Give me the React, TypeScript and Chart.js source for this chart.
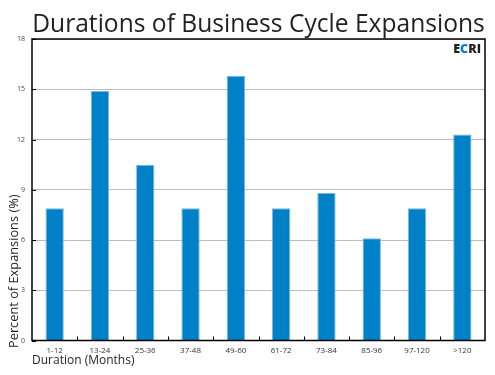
import React, { useEffect, useRef } from "react";
import { Chart, registerables } from "chart.js";

Chart.register(...registerables);

const categories = ["1-12", "13-24", "25-36", "37-48", "49-60", "61-72", "73-84", "85-96", "97-120", ">120"];
const percentValues = [7.9, 14.9, 10.5, 7.9, 15.8, 7.9, 8.8, 6.1, 7.9, 12.3];
const yMin = 0;
const yMax = 18;
const yStep = 3;
const titleText = "Durations of Business Cycle Expansions";
const yTitle = "Percent of Expansions (%)";
const xTitle = "Duration (Months)";

const FONT = "'Open Sans', sans-serif";
const DARK = "#231f20";
const BLUE = "#0080c6";

const framePlugin = {
  id: "frameDecor",
  afterDraw(chart: any) {
    const { ctx, chartArea } = chart;
    const { left, right, top, bottom } = chartArea;
    const xs = chart.scales.x;
    const ys = chart.scales.y;
    ctx.save();
    // tick marks
    ctx.strokeStyle = "#000";
    ctx.lineWidth = 1;
    ctx.beginPath();
    ys.ticks.forEach((t: any) => {
      const y = Math.round(ys.getPixelForValue(t.value)) + 0.5;
      ctx.moveTo(left, y);
      ctx.lineTo(left + 4, y);
    });
    for (let i = 1; i < categories.length; i++) {
      const x = Math.round((xs.getPixelForValue(i - 1) + xs.getPixelForValue(i)) / 2) + 0.5;
      ctx.moveTo(x, bottom);
      ctx.lineTo(x, bottom - 4);
    }
    ctx.stroke();
    // frame
    ctx.lineWidth = 1.5;
    ctx.strokeRect(left, top, right - left, bottom - top);
    // chart title
    ctx.fillStyle = DARK;
    ctx.font = `500 24.6px ${FONT}`;
    ctx.textAlign = "center";
    ctx.textBaseline = "alphabetic";
    ctx.fillText(titleText, (left + right) / 2, 32);
    // logo
    ctx.font = `800 12.5px ${FONT}`;
    ctx.textAlign = "left";
    const parts = [
      ["E", DARK],
      ["C", BLUE],
      ["RI", DARK],
    ];
    const total = parts.reduce((s, p) => s + ctx.measureText(p[0]).width, 0);
    let lx = right - 4 - total;
    parts.forEach(([t, c]) => {
      ctx.fillStyle = c;
      ctx.fillText(t, lx, top + 14);
      lx += ctx.measureText(t).width;
    });
    // axis titles
    ctx.fillStyle = DARK;
    ctx.font = `12px ${FONT}`;
    ctx.textAlign = "left";
    ctx.fillText(xTitle, left, 363.5);
    ctx.font = `12.8px ${FONT}`;
    ctx.translate(17.5, 348);
    ctx.rotate(-Math.PI / 2);
    ctx.fillText(yTitle, 0, 0);
    ctx.restore();
  },
};

export default function App() {
  const ref = useRef<HTMLCanvasElement>(null);
  useEffect(() => {
    if (!ref.current) return;
    const chart = new Chart(ref.current, {
      type: "bar",
      data: {
        labels: categories,
        datasets: [
          {
            data: percentValues,
            backgroundColor: BLUE,
            borderColor: "#7db6e0",
            borderWidth: { top: 1, left: 1, right: 1, bottom: 0 },
            borderSkipped: "bottom",
            categoryPercentage: 1,
            barPercentage: 0.405,
          },
        ],
      },
      options: {
        animation: false,
        responsive: true,
        maintainAspectRatio: false,
        layout: { padding: { left: 0, right: 10, top: 39, bottom: 0 } },
        plugins: {
          legend: { display: false },
          tooltip: { enabled: false },
          title: { display: false },
        },
        scales: {
          x: {
            grid: { display: false, drawTicks: false },
            border: { display: false },
            ticks: { color: "#333", font: { family: FONT, size: 8 }, padding: 5, maxRotation: 0, autoSkip: false },
            afterFit: (s: any) => {
              s.height = 34.5;
            },
          },
          y: {
            min: yMin,
            max: yMax,
            grid: { color: "#bdbdbd", drawTicks: false, lineWidth: 1 },
            border: { display: false },
            ticks: { stepSize: yStep, color: "#444", font: { family: FONT, size: 7 }, padding: 7 },
            afterFit: (s: any) => {
              s.width = 32;
            },
          },
        },
      },
      plugins: [framePlugin],
    });
    return () => chart.destroy();
  }, []);
  return (
    <div style={{ position: "fixed", left: 0, top: 0, width: 495, height: 375, background: "#fff" }}>
      <canvas ref={ref} />
    </div>
  );
}
